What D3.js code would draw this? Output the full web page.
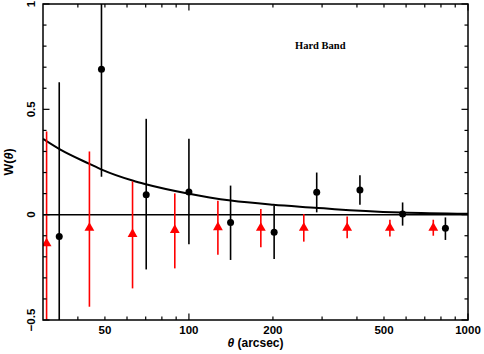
<!DOCTYPE html>
<html>
<head>
<meta charset="utf-8">
<script src="https://cdn.jsdelivr.net/npm/d3@7"></script>
<style>
  html, body { margin: 0; padding: 0; background: #fff; }
  svg { display: block; }
  .lab { font-family: "Liberation Sans", Arial, sans-serif; font-weight: bold; }
</style>
</head>
<body>
<svg id="chart" width="484" height="354"></svg>
<script>
// ---- data ----
const blackTheta = [34.3, 48.6, 70.3, 100, 141, 202, 287, 410, 583, 830];
const blackW     = [-0.104, 0.69, 0.095, 0.108, -0.037, -0.084, 0.106, 0.117, 0.003, -0.065];
const blackHi    = [0.628, 1.2, 0.455, 0.36, 0.138, 0.043, 0.2, 0.187, 0.058, -0.013];
const blackLo    = [-0.8, 0.18, -0.26, -0.14, -0.215, -0.21, 0.011, 0.047, -0.052, -0.12];

const redTheta = [30.9, 44, 62.8, 89, 127, 181, 258, 369, 525, 751];
const redW     = [-0.137, -0.063, -0.092, -0.073, -0.06, -0.063, -0.063, -0.063, -0.063, -0.063];
const redHi    = [0.395, 0.30, 0.158, 0.101, 0.066, 0.027, 0.003, -0.009, -0.024, -0.024];
const redLo    = [-0.8, -0.437, -0.35, -0.255, -0.19, -0.155, -0.128, -0.112, -0.104, -0.1];

const fitTheta = [30, 34.5, 44.2, 48.7, 63.2, 69.5, 98, 141.4, 200.5, 290.6, 333, 578, 1000];
const fitW     = [0.36, 0.31, 0.24, 0.214, 0.161, 0.146, 0.102, 0.067, 0.047, 0.032, 0.026, 0.01, 0.004];

const xTickLabels = [50, 100, 200, 500, 1000];
const xMajorTicks = [100, 1000];
const xMinorTicks = [40, 50, 60, 70, 80, 90, 200, 300, 400, 500, 600, 700, 800, 900];
const yTickLabels = [-0.5, 0, 0.5, 1];
const yMinorTicks = d3.range(-5, 11).map(d => d / 10);

const bandLabel = "Hard Band";

// ---- layout ----
const svg = d3.select("#chart");
const L = 43, R = 468, T = 4, B = 320;
const x = d3.scaleLog().domain([30, 1000]).range([L, R]);
const y = d3.scaleLinear().domain([-0.5, 1]).range([B, T]);

svg.append("defs").append("clipPath").attr("id", "clip")
  .append("rect").attr("x", L).attr("y", T).attr("width", R - L).attr("height", B - T);

const plot = svg.append("g").attr("clip-path", "url(#clip)");

// zero line
plot.append("line").attr("x1", L).attr("x2", R).attr("y1", y(0)).attr("y2", y(0))
  .attr("stroke", "#000").attr("stroke-width", 1.5);

// fit curve
const fit = fitTheta.map((t, i) => [t, fitW[i]]);
plot.append("path").datum(fit)
  .attr("d", d3.line().x(d => x(d[0])).y(d => y(d[1])).curve(d3.curveMonotoneX))
  .attr("fill", "none").attr("stroke", "#000").attr("stroke-width", 2);

// red series
const red = redTheta.map((t, i) => ({t, w: redW[i], hi: redHi[i], lo: redLo[i]}));
plot.selectAll(".rerr").data(red).enter().append("line")
  .attr("x1", d => x(d.t)).attr("x2", d => x(d.t))
  .attr("y1", d => y(d.hi)).attr("y2", d => y(d.lo))
  .attr("stroke", "#ff0000").attr("stroke-width", 1.6);
plot.selectAll(".rpt").data(red).enter().append("path")
  .attr("d", d3.symbol().type(d3.symbolTriangle).size(42))
  .attr("transform", d => `translate(${x(d.t)},${y(d.w)})`)
  .attr("fill", "#ff0000");

// black series
const blk = blackTheta.map((t, i) => ({t, w: blackW[i], hi: blackHi[i], lo: blackLo[i]}));
plot.selectAll(".berr").data(blk).enter().append("line")
  .attr("x1", d => x(d.t)).attr("x2", d => x(d.t))
  .attr("y1", d => y(d.hi)).attr("y2", d => y(d.lo))
  .attr("stroke", "#000").attr("stroke-width", 1.6);
plot.selectAll(".bpt").data(blk).enter().append("circle")
  .attr("cx", d => x(d.t)).attr("cy", d => y(d.w)).attr("r", 3.5)
  .attr("fill", "#000");

// frame
svg.append("rect").attr("x", L).attr("y", T).attr("width", R - L).attr("height", B - T)
  .attr("fill", "none").attr("stroke", "#000").attr("stroke-width", 1.5);

// ticks
const tk = svg.append("g").attr("stroke", "#000").attr("stroke-width", 1.2);
function xt(v, len) {
  tk.append("line").attr("x1", x(v)).attr("x2", x(v)).attr("y1", B).attr("y2", B - len);
  tk.append("line").attr("x1", x(v)).attr("x2", x(v)).attr("y1", T).attr("y2", T + len);
}
xMinorTicks.forEach(v => xt(v, 3.5));
xMajorTicks.forEach(v => xt(v, 6.5));
function yt(v, len) {
  tk.append("line").attr("x1", L).attr("x2", L + len).attr("y1", y(v)).attr("y2", y(v));
  tk.append("line").attr("x1", R).attr("x2", R - len).attr("y1", y(v)).attr("y2", y(v));
}
yMinorTicks.forEach(v => { if (!yTickLabels.some(m => Math.abs(m - v) < 1e-9)) yt(v, 3.5); });
yTickLabels.forEach(v => yt(v, 6.5));

// tick labels
svg.selectAll(".xl").data(xTickLabels).enter().append("text")
  .attr("class", "lab").attr("x", d => x(d)).attr("y", 334)
  .attr("text-anchor", "middle").attr("font-size", 11.5).text(d => d);
svg.selectAll(".yl").data(yTickLabels).enter().append("text")
  .attr("class", "lab").attr("text-anchor", "middle").attr("font-size", 11.5)
  .attr("transform", d => `translate(35,${y(d)}) rotate(-90)`)
  .text(d => d < 0 ? "\u2212" + Math.abs(d) : d);

// axis titles (theta in italics)
const xT = svg.append("text").attr("class", "lab").attr("x", (L + R) / 2).attr("y", 347)
  .attr("text-anchor", "middle").attr("font-size", 12);
xT.append("tspan").attr("font-style", "italic").text("θ");
xT.append("tspan").text(" (arcsec)");

const yT = svg.append("text").attr("class", "lab").attr("text-anchor", "middle").attr("font-size", 12.5)
  .attr("transform", `translate(13,${(T + B) / 2}) rotate(-90)`);
yT.append("tspan").text("W(");
yT.append("tspan").attr("font-style", "italic").text("θ");
yT.append("tspan").text(")");

// band label
svg.append("text").attr("x", 295).attr("y", 49)
  .attr("font-family", "'Liberation Serif', 'DejaVu Serif', serif").attr("font-weight", "bold")
  .attr("font-size", 10.5).text(bandLabel);
</script>
</body>
</html>
